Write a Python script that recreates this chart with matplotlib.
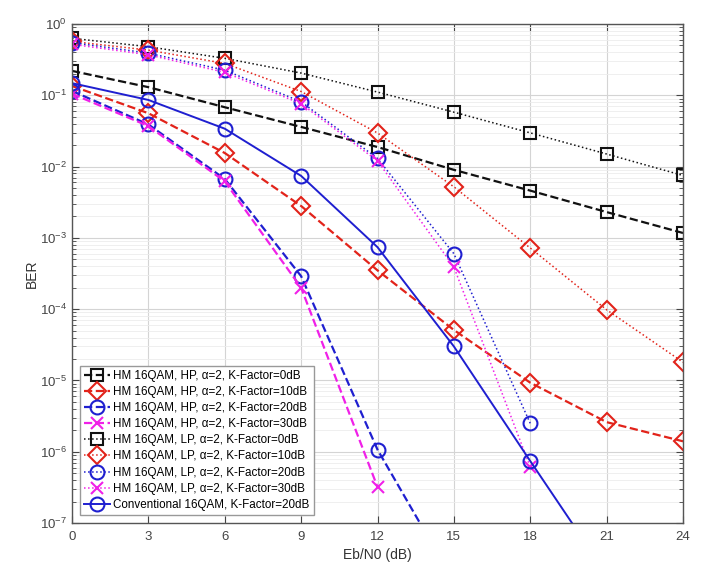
import numpy as np
import matplotlib
matplotlib.use("Agg")
import matplotlib.pyplot as plt
from matplotlib.ticker import FixedLocator, NullFormatter, LogFormatterSciNotation

plt.rcParams['font.family'] = ['Liberation Sans', 'DejaVu Sans']
plt.rcParams['mathtext.default'] = 'regular'

# Eb/N0 (dB)
snr = [0, 3, 6, 9, 12, 15, 18, 21, 24]

hp_k0 = [0.22, 0.13, 0.068, 0.036, 0.0188, 0.0090, 0.0046, 0.0023, 0.00117]
hp_k10 = [0.135, 0.056, 0.0155, 0.0028, 3.5e-4, 5.1e-5, 9.3e-6, 2.6e-6, 1.4e-6]
hp_k20 = [0.115, 0.039, 0.0067, 2.9e-4, 1.07e-6, 1.5e-8]
hp_k30 = [0.105, 0.037, 0.0062, 2.0e-4, 3.2e-7]
lp_k0 = [0.63, 0.48, 0.33, 0.205, 0.111, 0.058, 0.0297, 0.015, 0.0075]
lp_k10 = [0.57, 0.43, 0.28, 0.113, 0.0296, 0.0052, 7.2e-4, 9.8e-5, 1.8e-5]
lp_k20 = [0.55, 0.39, 0.225, 0.081, 0.013, 6.0e-4, 2.5e-6]
lp_k30 = [0.52, 0.37, 0.21, 0.076, 0.012, 3.9e-4, 6.1e-7]
conv_k20 = [0.148, 0.086, 0.034, 0.0074, 7.4e-4, 3.0e-5, 7.4e-7, 1.9e-8]

labels = [
    'HM 16QAM, HP, \u03b1=2, K-Factor=0dB',
    'HM 16QAM, HP, \u03b1=2, K-Factor=10dB',
    'HM 16QAM, HP, \u03b1=2, K-Factor=20dB',
    'HM 16QAM, HP, \u03b1=2, K-Factor=30dB',
    'HM 16QAM, LP, \u03b1=2, K-Factor=0dB',
    'HM 16QAM, LP, \u03b1=2, K-Factor=10dB',
    'HM 16QAM, LP, \u03b1=2, K-Factor=20dB',
    'HM 16QAM, LP, \u03b1=2, K-Factor=30dB',
    'Conventional 16QAM, K-Factor=20dB',
]
xticks = [0, 3, 6, 9, 12, 15, 18, 21, 24]
yticks = [1e-7, 1e-6, 1e-5, 1e-4, 1e-3, 1e-2, 1e-1, 1e0]

RED = '#e2231a'
BLUE = '#1f1fd0'
MAG = '#f020e8'
BLK = '#111111'

fig = plt.figure(figsize=(7.17, 5.70), dpi=100)
ax = fig.add_axes([72/717, 47/570, 611/717, 499/570])

series = [
    (hp_k0, BLK, '--', 's', 9, 1.6),
    (hp_k10, RED, '--', 'D', 9, 1.6),
    (hp_k20, BLUE, '--', 'o', 10, 1.6),
    (hp_k30, MAG, '--', 'x', 9, 1.6),
    (lp_k0, BLK, ':', 's', 9, 1.1),
    (lp_k10, RED, ':', 'D', 9, 1.1),
    (lp_k20, BLUE, ':', 'o', 10, 1.1),
    (lp_k30, MAG, ':', 'x', 9, 1.1),
    (conv_k20, BLUE, '-', 'o', 10, 1.4),
]

for (vals, col, ls, mk, ms, lw), lab in zip(series, labels):
    xs = snr[:len(vals)]
    ax.plot(xs, vals, color=col, linestyle=ls, linewidth=lw, marker=mk,
            markersize=ms, markerfacecolor='none', markeredgecolor=col,
            markeredgewidth=1.5, label=lab)

ax.set_yscale('log')
ax.set_xlim(0, 24)
ax.set_ylim(1e-7, 1)
ax.xaxis.set_major_locator(FixedLocator(xticks))
ax.yaxis.set_major_locator(FixedLocator(yticks))
ax.yaxis.set_major_formatter(LogFormatterSciNotation())
minors = [m * 10.0**e for e in range(-7, 0) for m in range(2, 10)]
ax.yaxis.set_minor_locator(FixedLocator(minors))
ax.yaxis.set_minor_formatter(NullFormatter())

ax.grid(True, which='major', color='#d4d4d4', linewidth=0.8)
ax.grid(True, which='minor', axis='y', color='#ececec', linewidth=0.6)
ax.set_axisbelow(True)

ax.tick_params(which='both', direction='in', top=True, right=True,
               colors='#444444', labelsize=9.5)
ax.tick_params(which='major', length=5)
ax.tick_params(which='minor', length=3)
ax.tick_params(axis='x', pad=6)
for sp in ax.spines.values():
    sp.set_color('#555555')
    sp.set_linewidth(1.0)

ax.set_xlabel('Eb/N0 (dB)', fontsize=10, color='#333333', labelpad=3)
ax.set_ylabel('BER', fontsize=10, color='#333333', labelpad=1)

leg = ax.legend(loc='lower left', fontsize=8.4, frameon=True, fancybox=False,
                edgecolor='#999999', framealpha=1, borderaxespad=0.7,
                labelspacing=0.35, handlelength=2.2, handletextpad=0.3,
                borderpad=0.35)
leg.get_frame().set_linewidth(1.0)

fig.savefig('out.png', dpi=100)
